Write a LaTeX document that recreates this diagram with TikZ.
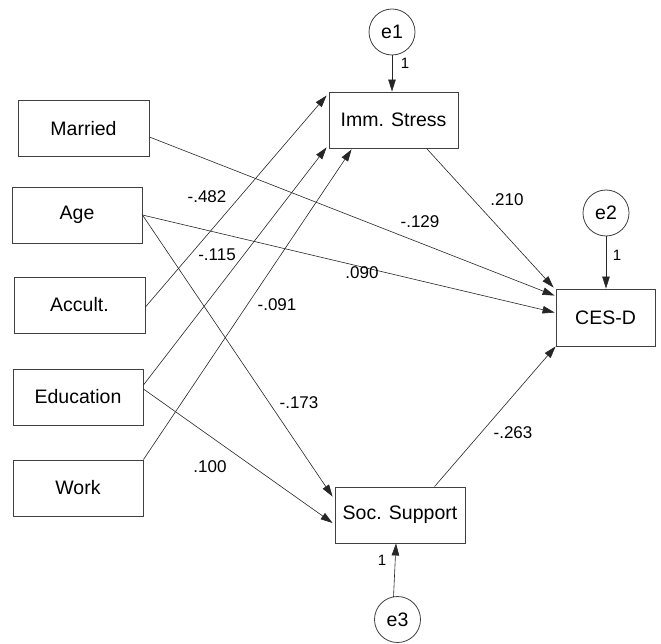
\documentclass[tikz,border=0pt]{standalone}
\usepackage{fontspec}
\setmainfont{Liberation Sans}
\usetikzlibrary{arrows.meta,calc}
\begin{document}
\begin{tikzpicture}[x=1pt,y=-1pt,
  var/.style={draw=black!75,line width=0.9pt,rectangle,minimum height=56pt,inner sep=0pt,font=\fontsize{19.5}{20}\selectfont},
  err/.style={draw=black!75,line width=0.8pt,circle,minimum size=46pt,inner sep=0pt,font=\fontsize{19.5}{20}\selectfont},
  coef/.style={inner sep=0pt,font=\fontsize{17}{18}\selectfont},
  one/.style={inner sep=0pt,font=\fontsize{15}{16}\selectfont},
  path/.style={draw=black!85,line width=0.6pt,-{Triangle[length=12pt,width=7.5pt]}}]
\useasboundingbox (0,0) rectangle (661,644);
\fill[white] (0,0) rectangle (661,644);
% observed variables
\node[var,minimum width=131pt] (married) at (83.5,128.5) {Married};
\node[var,minimum width=130pt] (age) at (77,215) {Age};
\node[var,minimum width=131pt] (accult) at (79.5,305) {Accult.};
\node[var,minimum width=130pt] (edu) at (78,397) {Education};
\node[var,minimum width=130pt] (work) at (78,488) {Work};
\node[var,minimum width=129pt] (imm) at (393.5,120) {Imm. Stress};
\node[var,minimum width=99pt,minimum height=57pt] (ces) at (605.5,317.5) {CES-D};
\node[var,minimum width=130pt] (soc) at (400,515) {Soc. Support};
% errors
\node[err] (e1) at (392,32) {e1};
\node[err] (e2) at (606,213) {e2};
\node[err] (e3) at (397.5,619.5) {e3};
% paths
\draw[path] ($(married.east)+(0,8.5)$) -- ($(ces.north west)+(-1,7)$);
\draw[path] (age.east) -- ($(ces.west)+(-1,-5)$);
\draw[path] (age.east) -- ($(soc.north west)+(-2,10)$);
\draw[path] ($(accult.east)+(0,2)$) -- ($(imm.north west)+(-2,4)$);
\draw[path] ($(edu.east)+(0,-12)$) -- ($(imm.south west)+(-2,-1)$);
\draw[path] (work.north east) -- ($(imm.south west)+(23,1)$);
\draw[path] ($(edu.east)+(0,-8)$) -- ($(soc.west)+(-2,8)$);
\draw[path] ($(imm.south west)+(98,0)$) -- ($(ces.north west)+(-2,-1)$);
\draw[path] ($(soc.north west)+(100,0)$) -- (ces.south west);
\draw[path] (e1.south) -- (e1.south |- imm.north);
\draw[path] (e2.south) -- (e2.south |- ces.north);
\draw[path] ($(e3.north)+(-4,1)$) -- ($(soc.south)+(-4,0)$);
% coefficients
\node[one] (l1) at (405,63) {1};
\node[one] (l2) at (617,255) {1};
\node[one] (l3) at (382,560) {1};
\node[coef] (c1) at (207,197) {-.482};
\node[coef] (c2) at (217,255) {-.115};
\node[coef] (c3) at (277,305) {-.091};
\node[coef] (c4) at (299,403) {-.173};
\node[coef] (c5) at (210,467) {.100};
\node[coef] (c6) at (507,200) {.210};
\node[coef] (c7) at (420,222) {-.129};
\node[coef] (c8) at (362,273) {.090};
\node[coef] (c9) at (513,433) {-.263};
\end{tikzpicture}
\end{document}
